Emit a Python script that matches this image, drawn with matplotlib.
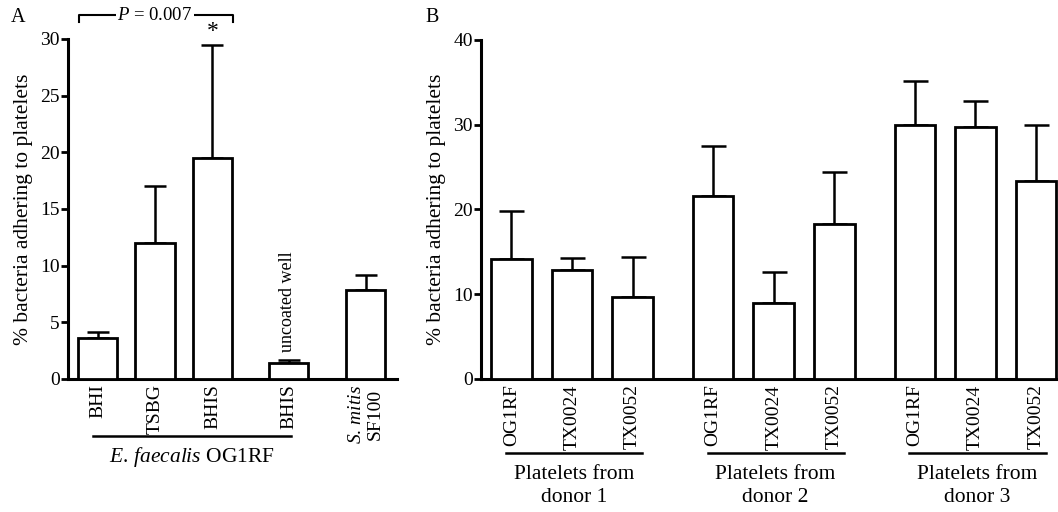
import numpy as np
import matplotlib
matplotlib.use("Agg")
import matplotlib.pyplot as plt
import matplotlib.transforms as mtransforms

plt.rcParams['font.family'] = 'serif'
plt.rcParams['font.serif'] = ['Liberation Serif', 'DejaVu Serif']
plt.rcParams['mathtext.fontset'] = 'custom'
plt.rcParams['mathtext.rm'] = 'Liberation Serif'
plt.rcParams['mathtext.it'] = 'Liberation Serif:italic'

# panel A data
a_labels = ['BHI', 'TSBG', 'BHIS', 'BHIS', '$\\mathit{S.\\,mitis}$\nSF100']
a_means = [3.6, 12.0, 19.5, 1.4, 7.8]
a_sem = [0.5, 5.0, 10.0, 0.3, 1.35]

# panel B data
b_strains = ['OG1RF', 'TX0024', 'TX0052']
b_donors = ['Platelets from\ndonor 1', 'Platelets from\ndonor 2', 'Platelets from\ndonor 3']
b_means = [14.1, 12.8, 9.7, 21.6, 8.9, 18.3, 30.0, 29.7, 23.3]
b_sem = [5.7, 1.5, 4.7, 5.9, 3.7, 6.1, 5.2, 3.1, 6.7]

ylab = '% bacteria adhering to platelets'


def style_axes(ax):
    for s in ['top', 'right']:
        ax.spines[s].set_visible(False)
    for s in ['left', 'bottom']:
        ax.spines[s].set_linewidth(2.2)
    ax.tick_params(axis='y', direction='out', length=5, width=2, labelsize=14, pad=1)
    ax.tick_params(axis='x', length=0, labelsize=14, pad=4)


def draw_bars(ax, x, means, sem, width, cap):
    ax.bar(x, means, width, color='white', edgecolor='black', linewidth=2, zorder=3)
    ax.errorbar(x, means, yerr=[np.zeros(len(sem)), sem], fmt='none', ecolor='black',
                elinewidth=1.8, capsize=cap, capthick=1.8, zorder=2)


fig = plt.figure(figsize=(10.58, 5.12), dpi=100)

# Panel A
#-------------------------------------------------------------------------------
axA = fig.add_axes([0.0643, 0.26, 0.3109, 0.664])
xa = np.array([0, 1, 2, 3.33, 4.67])
draw_bars(axA, xa, a_means, a_sem, 0.68, 8)
axA.set_xlim(-0.513, 5.21)
axA.set_ylim(0, 30)
axA.set_yticks(np.arange(0, 31, 5))
axA.set_xticks(xa)
axA.set_xticklabels(a_labels, rotation=90, va='top', ha='center')
for t in axA.get_xticklabels():
    t.set_multialignment('center')
axA.set_ylabel(ylab, fontsize=15.5, labelpad=5)
style_axes(axA)

trA = mtransforms.blended_transform_factory(axA.transData, axA.transAxes)
axA.plot([-0.08, 3.37], [-0.168, -0.168], color='black', lw=1.8, transform=trA, clip_on=False)
axA.text(1.645, -0.229, '$\\mathit{E.\\,faecalis}$ OG1RF', transform=trA, ha='center',
         va='center', fontsize=15.5)
axA.text(3.31, 2.4, 'uncoated well', rotation=90, ha='center', va='bottom', fontsize=13)
axA.text(2, 29.7, '*', ha='center', va='bottom', fontsize=17)

# P value bracket
axA.plot([-0.32, -0.32, 2.36, 2.36], [31.5, 32.1, 32.1, 31.5], color='black', lw=1.5, clip_on=False)
axA.text(1.0, 32.1, '$\\mathit{P}$ = 0.007', ha='center', va='center', fontsize=13.5,
         bbox=dict(facecolor='white', edgecolor='none', pad=1))
fig.text(0.010, 0.965, 'A', fontsize=14.5, va='center')

# Panel B
#-------------------------------------------------------------------------------
axB = fig.add_axes([0.4546, 0.26, 0.5454, 0.662])
xb = np.array([g * 3.333 + j for g in range(3) for j in range(3)])
draw_bars(axB, xb, b_means, b_sem, 0.67, 9)
axB.set_xlim(-0.504, 9.03)
axB.set_ylim(0, 40)
axB.set_yticks(np.arange(0, 41, 10))
axB.set_xticks(xb)
axB.set_xticklabels(b_strains * 3, rotation=90, va='top', ha='center')
axB.set_ylabel(ylab, fontsize=15.5, labelpad=5)
style_axes(axB)

trB = mtransforms.blended_transform_factory(axB.transData, axB.transAxes)
for g, name in enumerate(b_donors):
    x0 = g * 3.333
    axB.plot([x0 - 0.09, x0 + 2.16], [-0.22, -0.22], color='black', lw=1.8,
             transform=trB, clip_on=False)
    axB.text(x0 + 1.03, -0.315, name, transform=trB, ha='center', va='center',
             fontsize=15.5, linespacing=1.3)
fig.text(0.402, 0.965, 'B', fontsize=14.5, va='center')

fig.savefig('out.png', dpi=100)
